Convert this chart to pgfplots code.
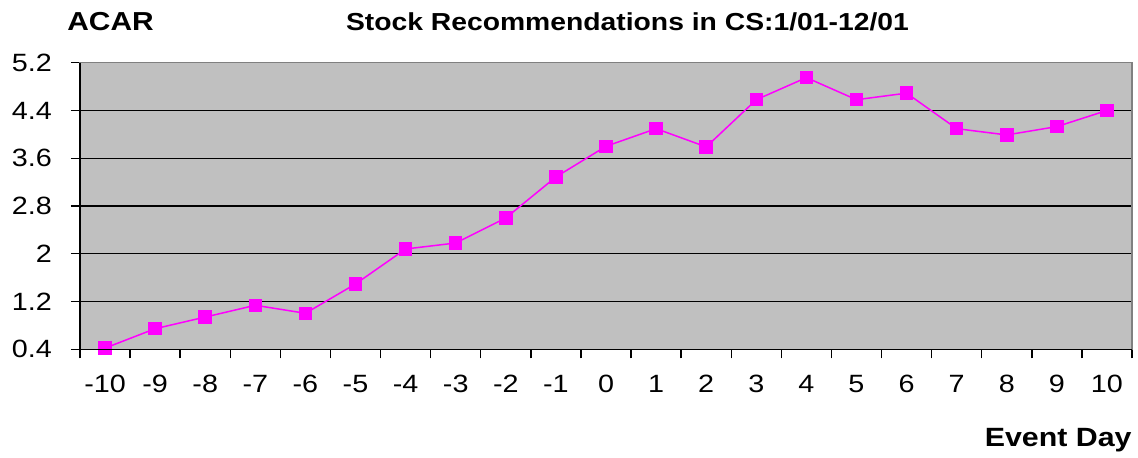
\documentclass[border=0pt]{standalone}
\usepackage{fontspec}
\setmainfont{Liberation Sans}[FakeStretch=1.15]
\usepackage{pgfplots}
\pgfplotsset{compat=1.18}
\definecolor{plotbg}{HTML}{C0C0C0}
\definecolor{frame}{HTML}{808080}
\definecolor{mag}{HTML}{FF00FF}
\begin{document}
\begin{tikzpicture}
\begin{axis}[
  name=ax,
  scale only axis,
  width=526pt, height=143.3pt,
  xmin=-10.5, xmax=10.5,
  ymin=0.4, ymax=5.2,
  axis background/.style={fill=plotbg},
  axis line style={frame, line width=0.7pt},
  xtick={-10,-9,...,10},
  minor xtick={-10.5,-9.5,...,10.5},
  ytick={0.4,1.2,2,2.8,3.6,4.4,5.2},
  yticklabels={0.4,1.2,2,2.8,3.6,4.4,5.2},
  xtick pos=bottom,
  ytick pos=left,
  tick align=outside,
  major tick length=4.5pt,
  minor tick length=4.5pt,
  major x tick style={draw=none},
  minor x tick style={black, line width=0.7pt},
  major y tick style={black, line width=0.7pt},
  ymajorgrids,
  grid style={black, line width=0.7pt},
  tick label style={font=\fontsize{12.5}{15}\selectfont},
  /pgf/number format/assume math mode=true,
  yticklabel style={xshift=-6pt},
  xticklabel style={yshift=-5pt},
  clip=false,
  after end axis/.code={
    \draw[black, line width=0.7pt] (rel axis cs:0,1) -- (rel axis cs:0,0) -- (rel axis cs:1,0);
    \node[font=\bfseries\fontsize{13}{15}\selectfont] at (rel axis cs:0.029,1.142) {ACAR};
    \node[font=\bfseries\fontsize{12.3}{15}\selectfont] at (rel axis cs:0.5204,1.142) {Stock Recommendations in CS:1/01-12/01};
    \node[font=\bfseries\fontsize{13.2}{15}\selectfont, anchor=east, inner xsep=0pt] at (rel axis cs:1,-0.3165) {Event Day};
  },
]
\addplot[mag, line width=0.75pt, mark=square*, mark size=3pt, mark options={solid, fill=mag, draw=mag}]
coordinates {
(-10,0.42) (-9,0.745) (-8,0.94) (-7,1.137) (-6,1.003) (-5,1.494)
(-4,2.08) (-3,2.18) (-2,2.60) (-1,3.286) (0,3.80) (1,4.095) (2,3.79)
(3,4.58) (4,4.95) (5,4.58) (6,4.69) (7,4.095) (8,3.99) (9,4.13) (10,4.40)
};
\end{axis}
\pgfresetboundingbox
\path[use as bounding box] ([shift={(-40pt,-54.35pt)}]ax.south west) rectangle ([shift={(3pt,31.35pt)}]ax.north east);
\end{tikzpicture}
\end{document}
